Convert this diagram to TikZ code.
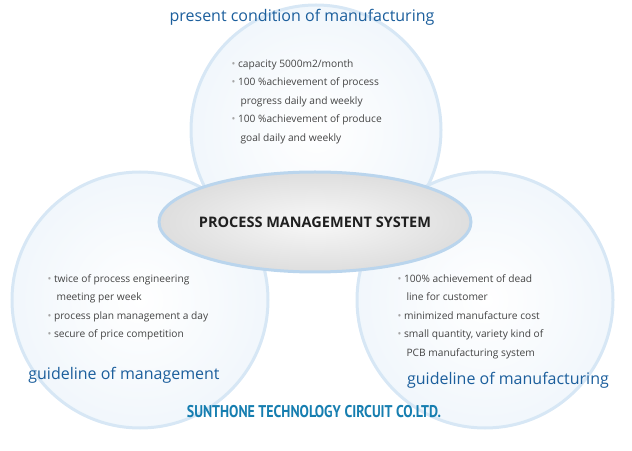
\documentclass[tikz,border=0pt]{standalone}
\usepackage{fontspec}
\setmainfont{Open Sans}
\newfontfamily\cond{PT Sans}
\usetikzlibrary{shapes.geometric}
\definecolor{ttl}{HTML}{1B5E9C}
\definecolor{txt}{HTML}{444444}
\definecolor{rim}{HTML}{9CC3E6}
\tikzset{
  x=1pt,y=1pt,
  ring/.style={circle,minimum size=#1,draw=rim!40,line width=3pt,inner color=white,outer color=rim!14},
  ttlbox/.style={text=ttl,font=\fontsize{16}{18}\selectfont},
  lst/.style={text=txt,font=\fontsize{10.2}{18.5}\selectfont,align=left,anchor=north west},
}
\newcommand{\bl}{{\color{gray!70}\textbullet}\ }
\begin{document}
\begin{tikzpicture}
\useasboundingbox (0,0) rectangle (632,450);
\node[ring=250pt] (ctop) at (316,320) {};
\node[ring=256pt] (cleft) at (140,150) {};
\node[ring=256pt] (cright) at (485,150) {};
\node[ellipse,minimum width=312pt,minimum height=100pt,draw=rim!70,line width=3pt,inner color=gray!6,outer color=gray!26] (core) at (315,228) {};
\node[font=\fontsize{14.5}{17}\selectfont\bfseries,text=black!88] (ctext) at (core) {PROCESS MANAGEMENT SYSTEM};
\node[ttlbox] (t1) at (302,433) {present condition of manufacturing};
\node[ttlbox] (t2) at (124,75) {guideline of management};
\node[ttlbox] (t3) at (508,70) {guideline of manufacturing};
\node[lst] (l1) at (228,394) {\bl capacity 5000m2/month\\ \bl 100 \%achievement of process\\ \hspace*{9pt}progress daily and weekly\\ \bl 100 \%achievement of produce\\ \hspace*{9pt}goal daily and weekly};
\node[lst] (l2) at (44,179) {\bl twice of process engineering\\ \hspace*{9pt}meeting per week\\ \bl process plan management a day\\ \bl secure of price competition};
\node[lst] (l3) at (394,179) {\bl 100\% achievement of dead\\ \hspace*{9pt}line for customer\\ \bl minimized manufacture cost\\ \bl small quantity, variety kind of\\ \hspace*{9pt}PCB manufacturing system};
\node[font=\cond\bfseries\fontsize{17}{19}\selectfont,text=ttl!80!cyan,xscale=0.82] (brand) at (314,38) {SUNTHONE TECHNOLOGY CIRCUIT CO.LTD.};
\end{tikzpicture}
\end{document}
